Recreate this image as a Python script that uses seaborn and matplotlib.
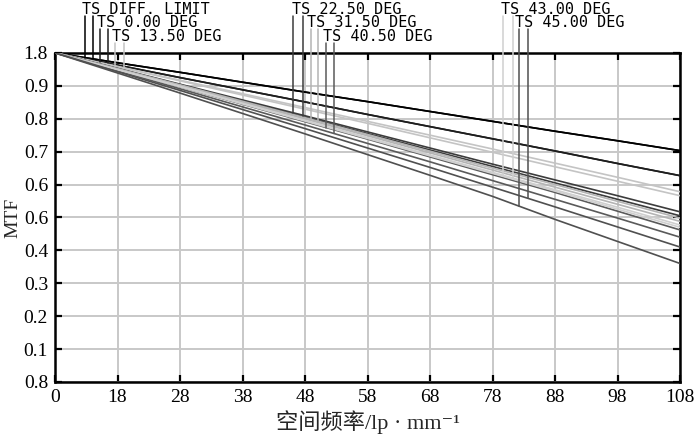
import numpy as np
import pandas as pd
import seaborn as sns
import matplotlib
matplotlib.use('Agg')
import matplotlib.pyplot as plt

# spatial frequency samples (lp/mm)
freq = [0, 10, 20, 30, 40, 50, 60, 70, 80, 90, 100]

# MTF values, T / S per field
diff_t = [1.000, 0.970, 0.941, 0.911, 0.881, 0.852, 0.822, 0.792, 0.762, 0.733, 0.703]
diff_s = [1.000, 0.970, 0.941, 0.911, 0.881, 0.852, 0.822, 0.792, 0.762, 0.733, 0.703]
f00_t = [1.000, 0.963, 0.925, 0.888, 0.851, 0.813, 0.776, 0.739, 0.702, 0.664, 0.627]
f00_s = [1.000, 0.963, 0.925, 0.888, 0.851, 0.813, 0.776, 0.739, 0.702, 0.664, 0.627]
f135_t = [1.000, 0.959, 0.917, 0.876, 0.834, 0.792, 0.750, 0.708, 0.665, 0.622, 0.578]
f135_s = [1.000, 0.958, 0.915, 0.872, 0.829, 0.786, 0.742, 0.698, 0.654, 0.610, 0.566]
f225_t = [1.000, 0.953, 0.905, 0.857, 0.809, 0.760, 0.711, 0.662, 0.614, 0.566, 0.517]
f225_s = [1.000, 0.952, 0.903, 0.854, 0.805, 0.755, 0.705, 0.655, 0.605, 0.555, 0.505]
f315_t = [1.000, 0.952, 0.903, 0.853, 0.803, 0.752, 0.701, 0.650, 0.600, 0.549, 0.498]
f315_s = [1.000, 0.951, 0.901, 0.850, 0.799, 0.748, 0.696, 0.644, 0.592, 0.540, 0.488]
f405_t = [1.000, 0.949, 0.897, 0.844, 0.791, 0.738, 0.684, 0.630, 0.576, 0.519, 0.462]
f405_s = [1.000, 0.946, 0.891, 0.836, 0.781, 0.725, 0.669, 0.612, 0.555, 0.498, 0.440]
f430_t = [1.000, 0.950, 0.899, 0.847, 0.795, 0.743, 0.690, 0.637, 0.584, 0.531, 0.477]
f430_s = [1.000, 0.949, 0.897, 0.845, 0.793, 0.740, 0.687, 0.634, 0.580, 0.525, 0.470]
f450_t = [1.000, 0.939, 0.878, 0.816, 0.754, 0.691, 0.628, 0.564, 0.494, 0.427, 0.360]
f450_s = [1.000, 0.943, 0.886, 0.828, 0.770, 0.711, 0.652, 0.592, 0.532, 0.471, 0.410]

field_labels = ['TS DIFF. LIMIT', 'TS 0.00 DEG', 'TS 13.50 DEG', 'TS 22.50 DEG',
                'TS 31.50 DEG', 'TS 40.50 DEG', 'TS 43.00 DEG', 'TS 45.00 DEG']
field_colors = ['#000000', '#1e1e1e', '#c4c4c4', '#3c3c3c',
                '#b4b4b4', '#5a5a5a', '#cfcfcf', '#505050']
t_curves = [diff_t, f00_t, f135_t, f225_t, f315_t, f405_t, f430_t, f450_t]
s_curves = [diff_s, f00_s, f135_s, f225_s, f315_s, f405_s, f430_s, f450_s]

# label text x (data units), text row, leader x for T and S
label_x = [4.3, 6.7, 9.1, 37.9, 40.3, 42.8, 71.3, 73.6]
label_row = [0, 1, 2, 0, 1, 2, 0, 1]
leader_x = [(4.8, 6.0), (7.2, 8.5), (9.6, 11.0), (38.1, 39.6),
            (40.9, 42.0), (43.4, 44.6), (71.7, 73.2), (74.3, 75.6)]
row_y = [1.1185, 1.0775, 1.035]
row_top = [1.113, 1.072, 1.030]

xtick_labels = ['0', '18', '28', '38', '48', '58', '68', '78', '88', '98', '108']
ytick_labels = ['0.8', '0.1', '0.2', '0.3', '0.4', '0.6', '0.6', '0.7', '0.8', '0.9', '1.8']

sns.set_style('ticks')
plt.rcParams['font.family'] = ['Liberation Serif', 'Noto Sans CJK SC', 'DejaVu Sans']

fig = plt.figure(figsize=(7, 4.37), dpi=100)
ax = fig.add_axes([0.0786, 0.126, 0.8929, 0.7529])

for i in range(len(field_labels)):
    sns.lineplot(x=freq, y=s_curves[i], ax=ax, color=field_colors[i], linewidth=1.2, zorder=3)
    sns.lineplot(x=freq, y=t_curves[i], ax=ax, color=field_colors[i], linewidth=1.2, zorder=3)

for i, lab in enumerate(field_labels):
    r = label_row[i]
    ax.text(label_x[i], row_y[r], lab, family='DejaVu Sans Mono', fontsize=10.9,
            ha='left', va='baseline', color='black')
    for xl, curve in zip(leader_x[i], [t_curves[i], s_curves[i]]):
        ybot = np.interp(xl, freq, curve)
        ax.plot([xl, xl], [ybot, row_top[r]], color=field_colors[i], linewidth=1.1,
                clip_on=False, zorder=4)

ax.set_xlim(0, 100)
ax.set_ylim(0, 1.0)
ax.set_xticks(np.arange(0, 101, 10))
ax.set_xticklabels(xtick_labels)
ax.set_yticks(np.arange(0, 1.01, 0.1))
ax.set_yticklabels(ytick_labels)
ax.grid(True, color='#c8c8c8', linewidth=1.4, zorder=0)
ax.set_axisbelow(True)
for sp in ax.spines.values():
    sp.set_visible(True)
    sp.set_linewidth(1.8)
    sp.set_color('black')
ax.tick_params(direction='in', length=5, width=1.6, top=True, right=True,
               labelsize=14, pad=5, colors='black')

ax.set_ylabel('MTF', fontsize=14, labelpad=2)
ax.set_xlabel('空间频率/lp · mm⁻¹', fontsize=16, labelpad=3)

fig.savefig('out.png', dpi=100)
